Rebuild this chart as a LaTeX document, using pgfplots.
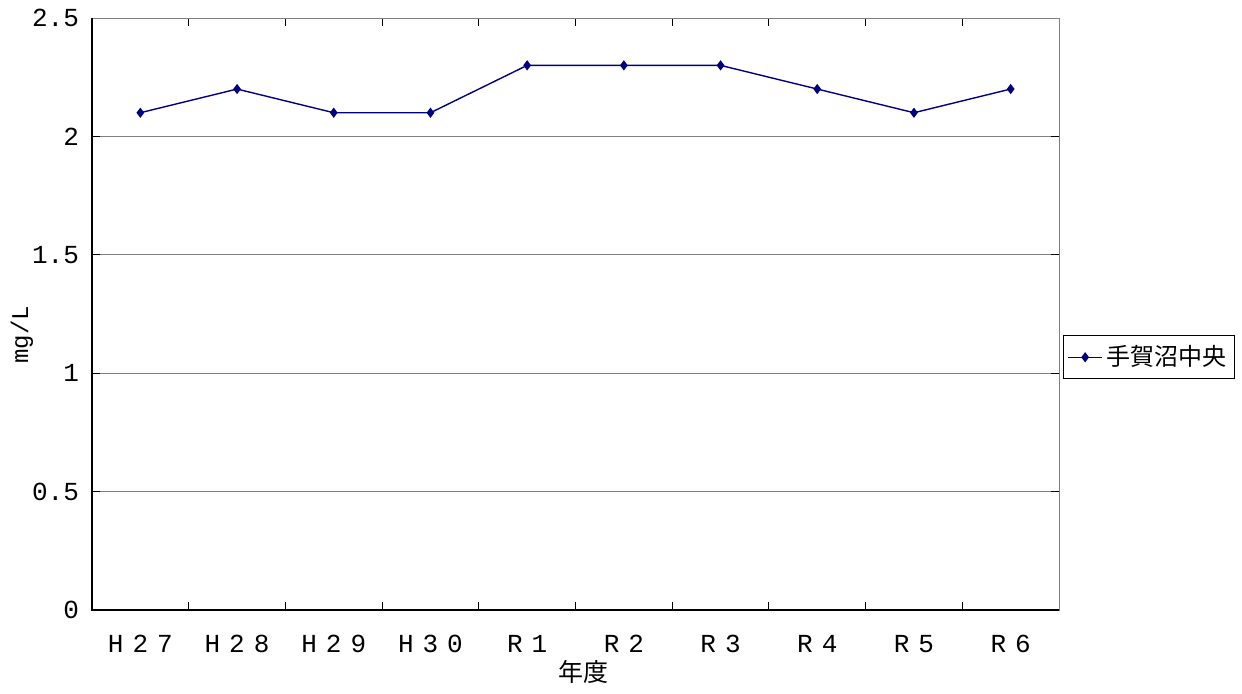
\documentclass[border=0pt]{standalone}
\usepackage{fontspec}
\setmainfont{Liberation Mono}
\newfontfamily\jp{Noto Sans CJK JP}
\usepackage{pgfplots}
\pgfplotsset{compat=1.18}
\definecolor{navy}{RGB}{0,0,128}
% full-width look for the year labels
\newcommand{\fw}[3]{#1\hspace{4.5pt}#2\hspace{4.5pt}#3}
\newcommand{\fwr}[1]{R\hspace{4.5pt}#1}

\begin{document}
\begin{tikzpicture}[x=1pt,y=1pt]
\useasboundingbox (0,0) rectangle (621,346.5);
\begin{axis}[
    at={(46pt,41.5pt)}, anchor=south west,
    scale only axis,
    width=483.5pt, height=296pt,
    xmin=-0.5, xmax=9.5,
    ymin=0, ymax=2.5,
    xtick={-0.5,0.5,1.5,2.5,3.5,4.5,5.5,6.5,7.5,8.5,9.5},
    x tick label as interval,
    xticklabels={\fw H27,\fw H28,\fw H29,\fw H30,\fwr1,\fwr2,\fwr3,\fwr4,\fwr5,\fwr6},
    ytick={0,0.5,1,1.5,2,2.5},
    yticklabels={0,0.5,1,1.5,2,2.5},
    tick style={draw=black, line width=0.5pt},
    major tick length=4pt,
    ymajorgrids,
    grid style={gray, line width=0.5pt},
    axis line style={gray, line width=0.5pt},
    tick label style={font=\fontsize{13}{15}\selectfont},
    xticklabel style={yshift=-9pt},
    yticklabel style={xshift=-3pt},
    /pgf/number format/assume math mode=true,
    xlabel={\jp 年度},
    xlabel style={at={(axis description cs:0.508,0)}, anchor=center, yshift=-31pt, font=\fontsize{12.5}{14}\selectfont},
    ylabel={mg/L},
    ylabel style={at={(axis description cs:-0.0725,0.465)}, anchor=center, font=\fontsize{12}{14}\selectfont},
    legend style={at={(axis description cs:1.004,0.427)}, anchor=west,
        draw=black, line width=0.5pt, font=\jp\fontsize{12}{14}\selectfont,
        inner xsep=2pt, inner ysep=3pt},
    legend cell align=left,
    clip=false,
]
\addplot[navy, line width=0.7pt, mark=diamond*, mark size=2pt, mark options={fill=navy}]
    coordinates {(0,2.1) (1,2.2) (2,2.1) (3,2.1) (4,2.3) (5,2.3) (6,2.3) (7,2.2) (8,2.1) (9,2.2)};
\addlegendentry{手賀沼中央}
\draw[black, line width=0.6pt] (rel axis cs:0,1) -- (rel axis cs:0,0) -- (rel axis cs:1,0);
\end{axis}
\end{tikzpicture}
\end{document}
